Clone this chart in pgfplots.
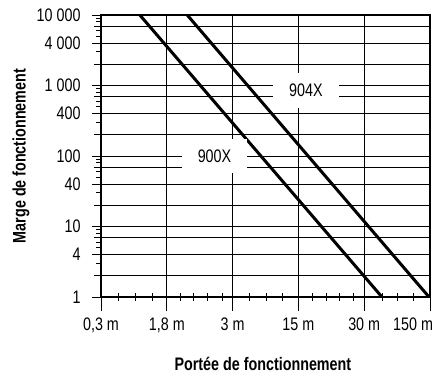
\documentclass[border=0pt]{standalone}
\usepackage{fontspec}
\setmainfont{Liberation Sans}[FakeStretch=0.79]
\usepackage{pgfplots}
\pgfplotsset{compat=1.18}
\begin{document}
\begin{tikzpicture}[x=1bp,y=1bp]
\path[use as bounding box] (-101,-79) rectangle (332,297);
\begin{axis}[
  at={(0,0)}, anchor=south west,
  scale only axis, width=329bp, height=282bp,
  xmin=0, xmax=5,
  ymode=log, ymin=1, ymax=10000,
  tick pos=left,
  xtick={0,1,2,3,4,5},
  xticklabels={{0,3 m},{1,8 m},{3 m},{15 m},{30 m},{\makebox[0pt][r]{150 m\kern-3bp}}},
  minor xtick={0.258,0.517,0.775,1.20,1.40,1.61,1.84,2.26,2.52,2.75,3.21,3.43,3.63,3.83,4.27,4.50,4.74},
  ytick={1,4,10,40,100,400,1000,4000,10000},
  yticklabels={1,4,10,40,100,400,1 000,4 000,10 000},
  minor ytick={3,5,6,8,9,30,50,60,80,90,300,500,600,800,900,3000,5000,6000,8000,9000},
  extra y ticks={2,7,20,70,200,700,2000,7000},
  extra y tick labels={},
  extra y tick style={grid=major, ytick style={/pgfplots/major tick length=7bp}},
  xtick align=center, ytick align=outside,
  xtick style={black, line width=0.8bp, /pgfplots/major tick length=28bp, /pgfplots/minor tick length=8bp},
  ytick style={black, line width=0.8bp, /pgfplots/major tick length=9bp, /pgfplots/minor tick length=5bp},
  xmajorgrids, ymajorgrids,
  major grid style={black, line width=0.8bp},
  axis line style={black, line width=1.2bp},
  ticklabel style={font=\fontsize{18.2}{21}\selectfont},
  xticklabel style={inner sep=0pt, anchor=north, yshift=-19bp},
  yticklabel style={inner sep=0pt, anchor=east, xshift=-16bp},
  xlabel={Portée de fonctionnement},
  ylabel={Marge de fonctionnement},
  label style={font=\bfseries\fontsize{18.2}{21}\selectfont},
  xlabel style={at={(axis description cs:0.492,0)}, anchor=base, yshift=-73bp},
  ylabel style={at={(axis description cs:-0.243,0.5)}, anchor=center},
  clip=false,
]
\addplot[black, line width=3bp] coordinates {(0.59,10000) (4.27,1)};
\addplot[black, line width=3bp] coordinates {(1.31,10000) (4.985,1)};
\node[fill=white, minimum width=66bp, minimum height=35bp, inner sep=0pt, font=\fontsize{18.2}{21}\selectfont] at (axis cs:3.115,863) {904X};
\node[fill=white, minimum width=65bp, minimum height=34bp, inner sep=0pt, font=\fontsize{18.2}{21}\selectfont] at (axis cs:1.725,100) {900X};
\end{axis}
\end{tikzpicture}
\end{document}
